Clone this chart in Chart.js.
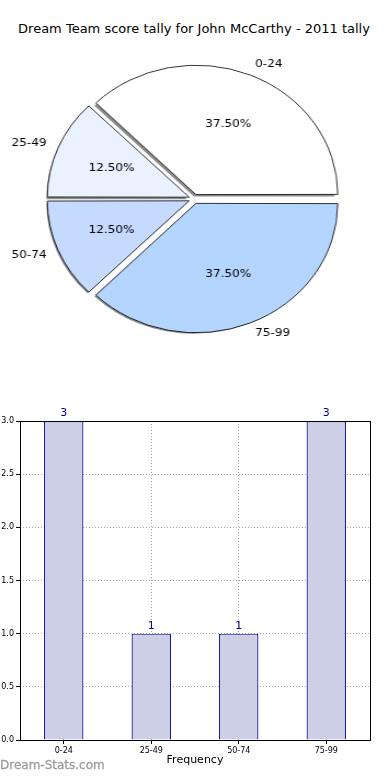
<!DOCTYPE html>
<html>
<head>
    <title>Dream Team score tally</title>
    <style>
        body { font-family: "DejaVu Sans", sans-serif; margin: 0; padding: 0; background: #fff; }
        #page { position: relative; width: 390px; height: 780px; overflow: hidden; }
        #title { position: absolute; left: 0; top: 21px; width: 388px; text-align: center; font-size: 13px; color: #000; }
        #pieWrap { position: absolute; left: 0; top: 34px; width: 354px; height: 330px; transform: scaleX(1.096); transform-origin: 0 0; }
        #barWrap { position: absolute; left: 0; top: 400px; width: 390px; height: 380px; }
        #mark { position: absolute; left: 0; top: 758px; font-size: 12px; color: #9c9c9c; -webkit-text-stroke: 0.3px #9c9c9c; }
    </style>
    <script src="https://cdn.jsdelivr.net/npm/chart.js"></script>
</head>
<body>
<div id="page">
    <div id="title">Dream Team score tally for John McCarthy - 2011 tally</div>
    <div id="pieWrap"><canvas id="pieChart" width="354" height="330"></canvas></div>
    <div id="barWrap"><canvas id="barChart"></canvas></div>
    <div id="mark">Dream-Stats.com</div>
</div>

<script>
    const categories = ['0-24', '25-49', '50-74', '75-99'];
    const counts = [3, 1, 1, 3];
    const sliceColors = ['#ffffff', '#eaf1ff', '#c6daff', '#b4d5ff'];
    const yTicks = [0, 0.5, 1, 1.5, 2, 2.5, 3];

    // matplotlib goes counter-clockwise from 3 o'clock, Chart.js clockwise -> reverse
    const pieLabels = categories.slice().reverse();
    const pieData = counts.slice().reverse();
    const pieColors = sliceColors.slice().reverse();
    const total = counts.reduce((a, b) => a + b, 0);

    function arcGeom(arc) {
        const p = arc.getProps(['x', 'y', 'startAngle', 'endAngle', 'outerRadius'], true);
        const mid = (p.startAngle + p.endAngle) / 2;
        // Chart.js moves an arc by offset / 4
        const off = (arc.options.offset || 0) / 4;
        return { p, mid, cx: p.x + Math.cos(mid) * off, cy: p.y + Math.sin(mid) * off };
    }

    const pieExtras = {
        id: 'pieExtras',
        beforeDatasetsDraw(chart) {
            const ctx = chart.ctx;
            ctx.save();
            ctx.fillStyle = 'rgba(0,0,0,0.45)';
            chart.getDatasetMeta(0).data.forEach(arc => {
                const g = arcGeom(arc);
                ctx.beginPath();
                ctx.moveTo(g.cx - 2, g.cy + 2);
                ctx.arc(g.cx - 2, g.cy + 2, g.p.outerRadius + 0.4, g.p.startAngle, g.p.endAngle);
                ctx.closePath();
                ctx.fill();
            });
            ctx.restore();
        },
        afterDatasetsDraw(chart) {
            const ctx = chart.ctx;
            ctx.save();
            ctx.fillStyle = '#000';
            ctx.font = '11px "DejaVu Sans"';
            ctx.textBaseline = 'middle';
            chart.getDatasetMeta(0).data.forEach((arc, i) => {
                const g = arcGeom(arc);
                const r = g.p.outerRadius;
                ctx.textAlign = Math.cos(g.mid) >= 0 ? 'left' : 'right';
                ctx.fillText(pieLabels[i], g.cx + Math.cos(g.mid) * r * 1.1, g.cy + Math.sin(g.mid) * r * 1.1);
                ctx.textAlign = 'center';
                ctx.fillText((pieData[i] / total * 100).toFixed(2) + '%', g.cx + Math.cos(g.mid) * r * 0.6, g.cy + Math.sin(g.mid) * r * 0.6);
            });
            ctx.restore();
        }
    };

    new Chart(document.getElementById('pieChart'), {
        type: 'pie',
        data: {
            labels: pieLabels,
            datasets: [{
                data: pieData,
                backgroundColor: pieColors,
                borderColor: '#000',
                borderWidth: 0.8,
                offset: 19,
                radius: 128
            }]
        },
        options: {
            responsive: false,
            animation: false,
            rotation: 90,
            plugins: { legend: { display: false }, tooltip: { enabled: false } }
        },
        plugins: [pieExtras]
    });

    const barExtras = {
        id: 'barExtras',
        afterDraw(chart) {
            const ctx = chart.ctx;
            const a = chart.chartArea;
            ctx.save();
            ctx.strokeStyle = '#000';
            ctx.lineWidth = 1;
            ctx.strokeRect(a.left + 0.5, a.top + 0.5, a.right - a.left, a.bottom - a.top);
            ctx.fillStyle = '#00008b';
            ctx.font = '11px "DejaVu Sans"';
            ctx.textAlign = 'center';
            ctx.textBaseline = 'bottom';
            chart.getDatasetMeta(0).data.forEach((bar, i) => {
                ctx.fillText(String(counts[i]), bar.x, bar.y - 2);
            });
            ctx.restore();
        }
    };

    new Chart(document.getElementById('barChart'), {
        type: 'bar',
        data: {
            labels: categories,
            datasets: [{
                data: counts,
                backgroundColor: '#cdcfe6',
                borderColor: '#00008b',
                borderWidth: 1.2,
                barPercentage: 0.45,
                categoryPercentage: 1
            }]
        },
        options: {
            responsive: true,
            maintainAspectRatio: false,
            animation: false,
            layout: { padding: { top: 21, right: 20, left: 0, bottom: 0 } },
            plugins: { legend: { display: false }, tooltip: { enabled: false } },
            scales: {
                x: {
                    z: 1,
                    grid: { offset: false, color: '#a8a8a8', tickLength: 4, tickColor: '#000' },
                    border: { dash: [1, 2], display: false },
                    ticks: { font: { size: 8, family: 'DejaVu Sans' }, color: '#000', padding: 2, maxRotation: 0 },
                    title: { display: true, text: 'Frequency', font: { size: 11, family: 'DejaVu Sans' }, color: '#000', padding: { top: 0, bottom: 13 } },
                    afterFit(scale) { scale.height = 40; }
                },
                y: {
                    z: 1,
                    min: 0,
                    max: 3,
                    afterBuildTicks(scale) { scale.ticks = yTicks.map(v => ({ value: v })); },
                    grid: { color: '#a8a8a8', tickLength: 4, tickColor: '#000' },
                    border: { dash: [1, 2], display: false },
                    ticks: {
                        font: { size: 8, family: 'DejaVu Sans' },
                        color: '#000',
                        padding: 2,
                        callback: v => Number(v).toFixed(1)
                    },
                    afterFit(scale) { scale.width = 20; }
                }
            }
        },
        plugins: [barExtras]
    });
</script>
</body>
</html>
